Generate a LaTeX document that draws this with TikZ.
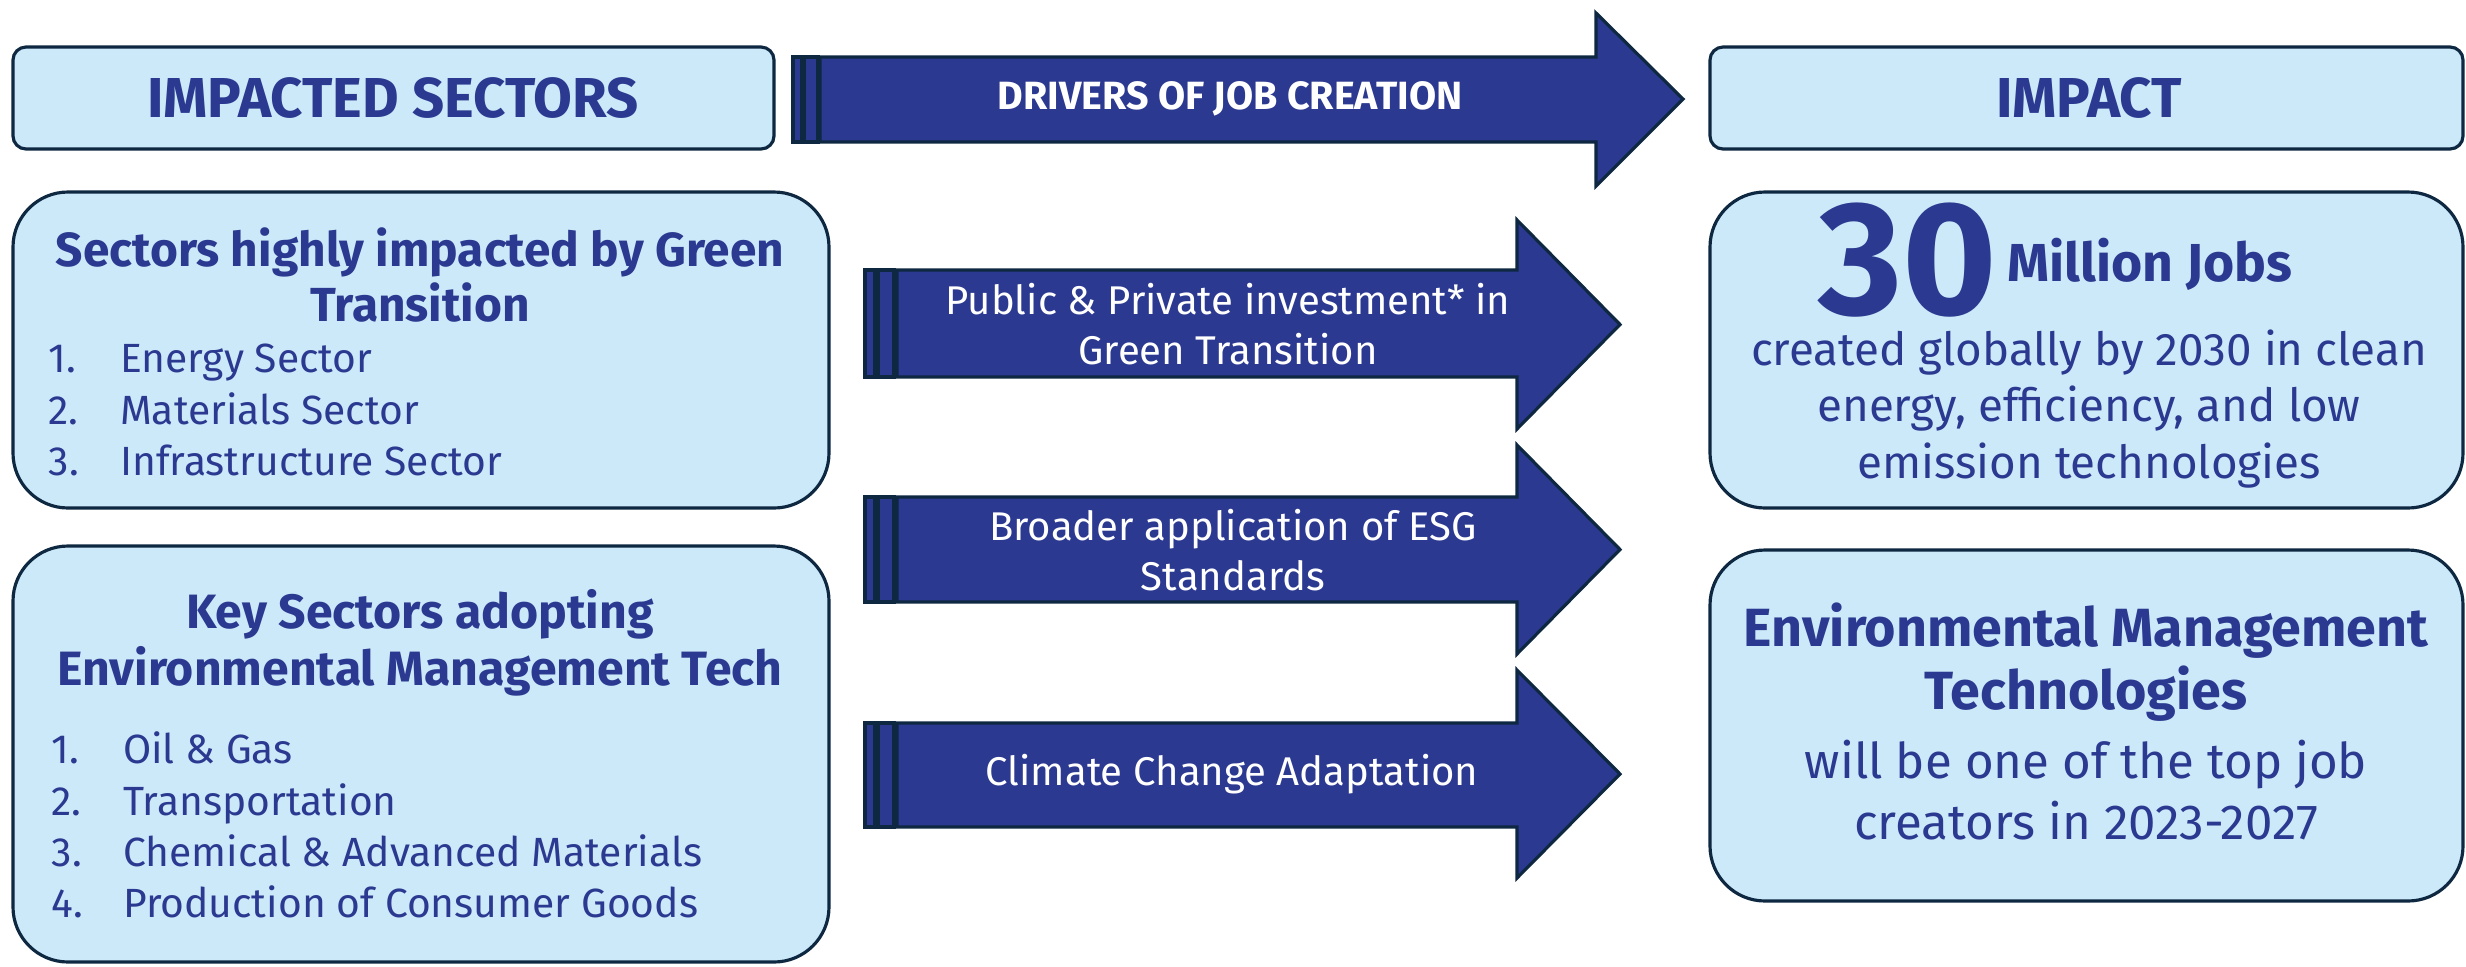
\documentclass[tikz,border=0pt]{standalone}
\usepackage{fontspec}
\setmainfont{Fira Sans}

\definecolor{navy}{HTML}{2B3990}
\definecolor{paleblue}{HTML}{CCE9FA}
\definecolor{darkedge}{HTML}{0E2841}

\tikzset{
    sectorbox/.style={draw=darkedge, line width=0.9pt, fill=paleblue, rounded corners=0.55cm},
    headbox/.style={draw=darkedge, line width=0.9pt, fill=paleblue, rounded corners=0.13cm},
    arrowbody/.style={draw=darkedge, line width=0.9pt, fill=navy},
    hdrtxt/.style={text=navy, inner sep=0pt, font=\bfseries\fontsize{16}{19}\selectfont},
    drvtxt/.style={text=white, inner sep=0pt, align=center, font=\fontsize{11.4}{14.2}\selectfont},
    titletxt/.style={text=navy, inner sep=0pt, align=center, font=\bfseries\fontsize{13.6}{15.6}\selectfont},
    listtxt/.style={text=navy, inner sep=0pt, align=left, anchor=west, font=\fontsize{11.6}{14.6}\selectfont},
    bodytxt/.style={text=navy, inner sep=0pt, align=center, font=\fontsize{13}{16.1}\selectfont}
}
\newcommand{\itm}[1]{\makebox[20.3pt][l]{#1}}

\begin{document}
\begin{tikzpicture}[x=0.01cm, y=-0.01cm]
    \useasboundingbox (0,0) rectangle (2466,966);

    % header row
    \draw[headbox] (13,47) rectangle (774,149);
    \draw[headbox] (1710,47) rectangle (2463,149);
    \draw[arrowbody] (793,57) rectangle (802,142);
    \draw[arrowbody] (804,57) rectangle (818,142);
    \draw[arrowbody] (820,57) -- (1596,57) -- (1596,13) -- (1683,99)
        -- (1596,186) -- (1596,142) -- (820,142) -- cycle;
    \node[hdrtxt] (sectorshdr) at (393,98) {IMPACTED SECTORS};
    \node[hdrtxt] (impacthdr) at (2089,98) {IMPACT};
    \node[drvtxt, font=\bfseries\fontsize{11.2}{13}\selectfont] (drivershdr) at (1230,99) {DRIVERS OF JOB CREATION};

    % driver arrows
    \foreach \bt/\bb/\ht/\hb in {270/377/220/429, 497/602/445/654, 723/827/670/878} {
        \draw[arrowbody] (865,\bt) rectangle (875,\bb);
        \draw[arrowbody] (878,\bt) rectangle (894,\bb);
        \draw[arrowbody] (897,\bt) -- (1517,\bt) -- (1517,\ht) -- (1620,{(\ht+\hb)/2})
            -- (1517,\hb) -- (1517,\bb) -- (897,\bb) -- cycle;
    }
    \node[drvtxt] (investment) at (1228,324) {Public \& Private investment* in\\Green Transition};
    \node[drvtxt] (esg) at (1233,550) {Broader application of ESG\\Standards};
    \node[drvtxt] (adaptation) at (1232,774) {Climate Change Adaptation};

    % impacted sectors
    \draw[sectorbox] (13,192) rectangle (829,508);
    \node[titletxt] (greentitle) at (420,275) {Sectors highly impacted by Green\\Transition};
    \node[listtxt] (greenlist) at (48,410) {\itm{1.}Energy Sector\\\itm{2.}Materials Sector\\\itm{3.}Infrastructure Sector};

    \draw[sectorbox] (13,546) rectangle (829,962);
    \node[titletxt, font=\bfseries\fontsize{13.7}{16.1}\selectfont] (emttitle) at (420,643) {Key Sectors adopting\\Environmental Management Tech};
    \node[listtxt] (emtlist) at (51,825) {\itm{1.}Oil \& Gas\\\itm{2.}Transportation\\\itm{3.}Chemical \& Advanced Materials\\\itm{4.}Production of Consumer Goods};

    % impact
    \draw[sectorbox] (1710,192) rectangle (2463,508);
    \node[text=navy, inner sep=0pt, font=\bfseries\fontsize{46}{46}\selectfont] (thirty) at (1908,260) {30};
    \node[text=navy, inner sep=0pt, font=\bfseries\fontsize{15.2}{17}\selectfont] (millionjobs) at (2150,264) {Million Jobs};
    \node[bodytxt] (jobsbody) at (2089,409) {created globally by 2030 in clean\\energy, efficiency, and low\\emission technologies};

    \draw[sectorbox] (1710,550) rectangle (2463,901);
    \node[titletxt, font=\bfseries\fontsize{15.3}{17.9}\selectfont] (emtimpact) at (2086,662) {Environmental Management\\Technologies};
    \node[bodytxt, font=\fontsize{14}{17.4}\selectfont] (topcreators) at (2086,790) {will be one of the top job\\creators in 2023-2027};
\end{tikzpicture}
\end{document}
